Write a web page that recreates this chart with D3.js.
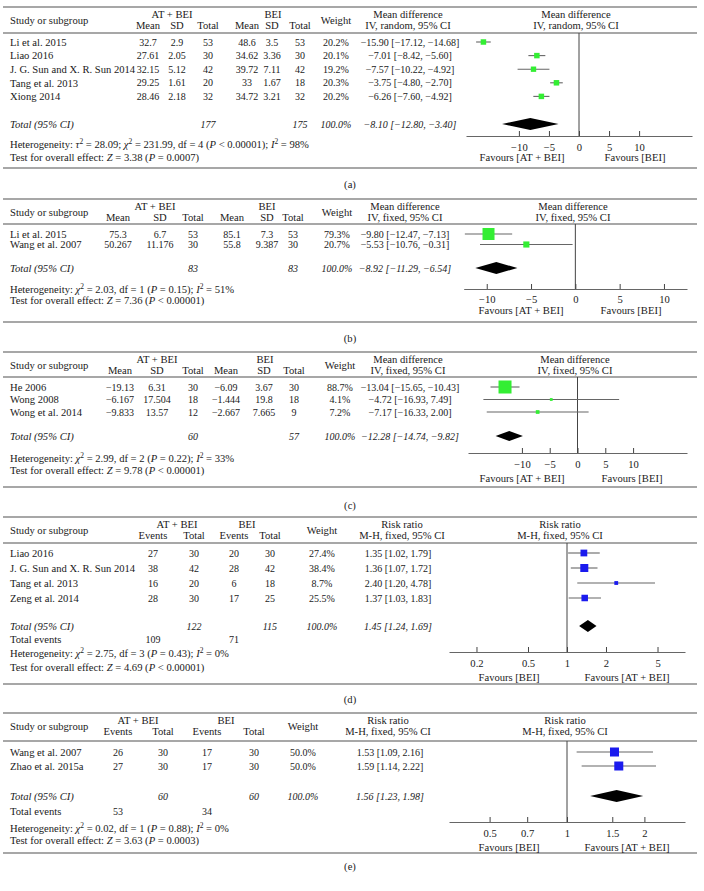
<!DOCTYPE html>
<html>
<head>
<meta charset="utf-8">
<script src="https://cdn.jsdelivr.net/npm/d3@7"></script>
<style>
body { margin: 0; background: #fff; }
text { font-family: "Liberation Serif", "Times New Roman", serif; font-size: 10.6px; fill: #1a1a1a; }
text.num { font-size: 10px; }
</style>
</head>
<body>
<svg id="fig" width="704" height="891"></svg>
<script>
// ---- panel (a) : mean difference, random
var studiesA = ["Li et al. 2015", "Liao 2016", "J. G. Sun and X. R. Sun 2014", "Tang et al. 2013", "Xiong 2014"];
var tableA = [
  ["32.7", "2.9", "53", "48.6", "3.5", "53", "20.2%"],
  ["27.61", "2.05", "30", "34.62", "3.36", "30", "20.1%"],
  ["32.15", "5.12", "42", "39.72", "7.11", "42", "19.2%"],
  ["29.25", "1.61", "20", "33", "1.67", "18", "20.3%"],
  ["28.46", "2.18", "32", "34.72", "3.21", "32", "20.2%"]
];
var estA = [-15.90, -7.01, -7.57, -3.75, -6.26];
var loA = [-17.12, -8.42, -10.22, -4.80, -7.60];
var hiA = [-14.68, -5.60, -4.92, -2.70, -4.92];
var weightA = [20.2, 20.1, 19.2, 20.3, 20.2];
var pooledA = [-8.10, -12.80, -3.40];
var totalRowA = ["", "", "177", "", "", "175", "100.0%"];
var ticksA = [-10, -5, 0, 5, 10];
var hetA = "Heterogeneity: <i>τ</i><sup>2</sup> = 28.09; <i>χ</i><sup>2</sup> = 231.99, df = 4 (<i>P</i> < 0.00001); <i>I</i><sup>2</sup> = 98%";
var testA = "Test for overall effect: <i>Z</i> = 3.38 (<i>P</i> = 0.0007)";

// ---- panel (b)
var studiesB = ["Li et al. 2015", "Wang et al. 2007"];
var tableB = [
  ["75.3", "6.7", "53", "85.1", "7.3", "53", "79.3%"],
  ["50.267", "11.176", "30", "55.8", "9.387", "30", "20.7%"]
];
var estB = [-9.80, -5.53];
var loB = [-12.47, -10.76];
var hiB = [-7.13, -0.31];
var weightB = [79.3, 20.7];
var pooledB = [-8.92, -11.29, -6.54];
var totalRowB = ["", "", "83", "", "", "83", "100.0%"];
var ticksB = [-10, -5, 0, 5, 10];
var hetB = "Heterogeneity: <i>χ</i><sup>2</sup> = 2.03, df = 1 (<i>P</i> = 0.15); <i>I</i><sup>2</sup> = 51%";
var testB = "Test for overall effect: <i>Z</i> = 7.36 (<i>P</i> < 0.00001)";

// ---- panel (c)
var studiesC = ["He 2006", "Wong 2008", "Wong et al. 2014"];
var tableC = [
  ["−19.13", "6.31", "30", "−6.09", "3.67", "30", "88.7%"],
  ["−6.167", "17.504", "18", "−1.444", "19.8", "18", "4.1%"],
  ["−9.833", "13.57", "12", "−2.667", "7.665", "9", "7.2%"]
];
var estC = [-13.04, -4.72, -7.17];
var loC = [-15.65, -16.93, -16.33];
var hiC = [-10.43, 7.49, 2.00];
var weightC = [88.7, 4.1, 7.2];
var pooledC = [-12.28, -14.74, -9.82];
var totalRowC = ["", "", "60", "", "", "57", "100.0%"];
var ticksC = [-10, -5, 0, 5, 10];
var hetC = "Heterogeneity: <i>χ</i><sup>2</sup> = 2.99, df = 2 (<i>P</i> = 0.22); <i>I</i><sup>2</sup> = 33%";
var testC = "Test for overall effect: <i>Z</i> = 9.78 (<i>P</i> < 0.00001)";

// ---- panel (d) : risk ratio
var studiesD = ["Liao 2016", "J. G. Sun and X. R. Sun 2014", "Tang et al. 2013", "Zeng et al. 2014"];
var tableD = [
  ["27", "30", "20", "30", "27.4%"],
  ["38", "42", "28", "42", "38.4%"],
  ["16", "20", "6", "18", "8.7%"],
  ["28", "30", "17", "25", "25.5%"]
];
var estD = [1.35, 1.36, 2.40, 1.37];
var loD = [1.02, 1.07, 1.20, 1.03];
var hiD = [1.79, 1.72, 4.78, 1.83];
var weightD = [27.4, 38.4, 8.7, 25.5];
var pooledD = [1.45, 1.24, 1.69];
var totalRowD = ["", "122", "", "115", "100.0%"];
var eventsD = ["109", "", "71", "", ""];
var ticksD = [0.2, 0.5, 1, 2, 5];
var hetD = "Heterogeneity: <i>χ</i><sup>2</sup> = 2.75, df = 3 (<i>P</i> = 0.43); <i>I</i><sup>2</sup> = 0%";
var testD = "Test for overall effect: <i>Z</i> = 4.69 (<i>P</i> < 0.00001)";

// ---- panel (e)
var studiesE = ["Wang et al. 2007", "Zhao et al. 2015a"];
var tableE = [
  ["26", "30", "17", "30", "50.0%"],
  ["27", "30", "17", "30", "50.0%"]
];
var estE = [1.53, 1.59];
var loE = [1.09, 1.14];
var hiE = [2.16, 2.22];
var weightE = [50.0, 50.0];
var pooledE = [1.56, 1.23, 1.98];
var totalRowE = ["", "60", "", "60", "100.0%"];
var eventsE = ["53", "", "34", "", ""];
var ticksE = [0.5, 0.7, 1, 1.5, 2];
var hetE = "Heterogeneity: <i>χ</i><sup>2</sup> = 0.02, df = 1 (<i>P</i> = 0.88); <i>I</i><sup>2</sup> = 0%";
var testE = "Test for overall effect: <i>Z</i> = 3.63 (<i>P</i> = 0.0003)";

var favAT = "Favours [AT + BEI]", favBEI = "Favours [BEI]";

var svg = d3.select("#fig");
var ruleColor = "#8a8a8a";

function fmt(v) {
  return (v < 0 ? "−" : "") + Math.abs(v).toFixed(2);
}
function ciText(e, l, h) {
  return fmt(e) + " [" + fmt(l) + ", " + fmt(h) + "]";
}

// text with <i> and <sup> pieces
function rich(t, str) {
  var parts = str.split(/(<i>.*?<\/i>|<sup>.*?<\/sup>)/);
  var shift = 0;
  parts.forEach(function(p) {
    if (!p) return;
    var ts;
    if (p.indexOf("<i>") === 0) {
      ts = t.append("tspan").style("font-style", "italic").text(p.slice(3, -4));
    } else if (p.indexOf("<sup>") === 0) {
      ts = t.append("tspan").style("font-size", "7.5px").text(p.slice(5, -6));
      ts.attr("dy", -4); shift = 4; return;
    } else {
      ts = t.append("tspan").text(p);
    }
    if (shift) { ts.attr("dy", shift); shift = 0; }
  });
}

function txt(g, x, y, s, anchor, italic, cls) {
  var t = g.append("text").attr("x", x).attr("y", y).attr("dy", "0.35em")
    .attr("text-anchor", anchor || "middle").text(s);
  if (italic) t.style("font-style", "italic");
  if (cls) t.attr("class", cls);
  return t;
}

function drawPanel(p) {
  var g = svg.append("g");
  var top = p.top;
  // rules
  [top, p.hdrLine, p.bottom].forEach(function(y) {
    g.append("line").attr("x1", 3).attr("x2", 697).attr("y1", y).attr("y2", y)
      .attr("stroke", ruleColor).attr("stroke-width", 1.4);
  });
  // header
  txt(g, 10, top + 13, "Study or subgroup", "start");
  txt(g, p.grp[0], top + 7, "AT + BEI");
  txt(g, p.grp[1], top + 7, "BEI");
  var sub = p.cols.length === 7 ? ["Mean", "SD", "Total", "Mean", "SD", "Total"] : ["Events", "Total", "Events", "Total"];
  sub.forEach(function(s, i) { txt(g, p.cols[i], top + 18.5, s); });
  txt(g, p.cols[p.cols.length - 1], top + 13, "Weight");
  txt(g, p.hdrL, top + 7, p.measure);
  txt(g, p.hdrL, top + 18.5, p.method);
  txt(g, p.hdrR, top + 7, p.measure);
  txt(g, p.hdrR, top + 18.5, p.method);

  var x = p.log ? d3.scaleLog().domain(p.domain).range(p.range)
                : d3.scaleLinear().domain(p.domain).range(p.range);
  var ref = p.log ? 1 : 0;
  var rowY = function(i) { return p.rowStart + i * p.step; };
  var size = d3.scaleSqrt().domain([0, d3.max(p.weight)]).range([0, p.sizeMax]);

  // study rows
  p.studies.forEach(function(s, i) {
    var y = rowY(i);
    txt(g, 10, y, s, "start");
    p.table[i].forEach(function(v, j) { txt(g, p.cols[j], y, v, "middle", false, "num"); });
    txt(g, p.ciX, y, ciText(p.est[i], p.lo[i], p.hi[i]), "middle", false, "num");
  });
  // totals
  txt(g, 10, p.totalY, "Total (95% CI)", "start", true);
  p.totalRow.forEach(function(v, j) { if (v) txt(g, p.cols[j], p.totalY, v, "middle", true, "num"); });
  txt(g, p.ciX, p.totalY, ciText(p.pooled[0], p.pooled[1], p.pooled[2]), "middle", true, "num");
  if (p.events) {
    txt(g, 10, p.eventsY, "Total events", "start");
    p.events.forEach(function(v, j) { if (v) txt(g, p.cols[j], p.eventsY, v, "middle", false, "num"); });
  }
  rich(txt(g, 10, p.hetY, "", "start"), p.het);
  rich(txt(g, 10, p.testY, "", "start"), p.test);
  txt(g, 350, p.labelY, p.label);

  // reference line
  g.append("line").attr("x1", x(ref)).attr("x2", x(ref)).attr("y1", p.hdrLine).attr("y2", p.axisY)
    .attr("stroke", "#444").attr("stroke-width", 1);

  // CI lines and boxes
  g.selectAll(".ci").data(p.est).enter().append("line")
    .attr("x1", function(d, i) { return x(p.lo[i]); })
    .attr("x2", function(d, i) { return x(p.hi[i]); })
    .attr("y1", function(d, i) { return rowY(i); })
    .attr("y2", function(d, i) { return rowY(i); })
    .attr("stroke", "#666").attr("stroke-width", 1.1);
  g.selectAll(".box").data(p.est).enter().append("rect")
    .attr("x", function(d, i) { return x(d) - size(p.weight[i]) / 2; })
    .attr("y", function(d, i) { return rowY(i) - size(p.weight[i]) / 2; })
    .attr("width", function(d, i) { return size(p.weight[i]); })
    .attr("height", function(d, i) { return size(p.weight[i]); })
    .attr("fill", p.color);
  // diamond
  var h = p.dH / 2, ty = p.totalY;
  g.append("path")
    .attr("d", "M" + x(p.pooled[1]) + "," + ty + "L" + x(p.pooled[0]) + "," + (ty - h) +
      "L" + x(p.pooled[2]) + "," + ty + "L" + x(p.pooled[0]) + "," + (ty + h) + "Z")
    .attr("fill", "#000");

  // axis
  var ax = g.append("g").attr("transform", "translate(0," + p.axisY + ")")
    .call(d3.axisBottom(x).tickValues(p.ticks).tickFormat(function(d) { return String(d).replace("-", "−"); })
      .tickSizeInner(-5).tickSizeOuter(0).tickPadding(p.tickPad || 7));
  ax.select(".domain").attr("stroke", "#666").attr("stroke-width", 1.2);
  ax.selectAll(".tick line").attr("stroke", "#444");
  ax.selectAll(".tick text").attr("font-family", null).attr("font-size", null).attr("fill", null);
  txt(g, p.favLx, p.favY, p.favL);
  txt(g, p.favRx, p.favY, p.favR);
}

var green = "#33ee33", blue = "#1a1aee";

drawPanel({
  label: "(a)", top: 7, hdrLine: 33, rowStart: 42, step: 13.6, totalY: 124, hetY: 144, testY: 157,
  bottom: 168, labelY: 184, cols: [148, 177, 208, 247, 272, 300, 336], grp: [172, 273],
  ciX: 410, hdrL: 408, hdrR: 576, measure: "Mean difference", method: "IV, random, 95% CI",
  studies: studiesA, table: tableA, est: estA, lo: loA, hi: hiA, weight: weightA, pooled: pooledA,
  totalRow: totalRowA, het: hetA, test: testA, ticks: ticksA,
  domain: [-18.8, 18.8], range: [466, 692], axisY: 136, favY: 157, favLx: 522, favRx: 635,
  favL: favAT, favR: favBEI, sizeMax: 5.5, dH: 12, color: green
});
drawPanel({
  label: "(b)", top: 199, hdrLine: 224, rowStart: 234, step: 10.5, totalY: 268, hetY: 289, testY: 300,
  bottom: 322, labelY: 338, cols: [118, 160, 193, 232, 267, 293, 337], grp: [155, 267],
  ciX: 405, hdrL: 405, hdrR: 573, measure: "Mean difference", method: "IV, fixed, 95% CI",
  studies: studiesB, table: tableB, est: estB, lo: loB, hi: hiB, weight: weightB, pooled: pooledB,
  totalRow: totalRowB, het: hetB, test: testB, ticks: ticksB, tickPad: 6,
  domain: [-12.6, 12.6], range: [463.7, 687], axisY: 289, favY: 310, favLx: 521, favRx: 631,
  favL: favAT, favR: favBEI, sizeMax: 12, dH: 12, color: green
});
drawPanel({
  label: "(c)", top: 352, hdrLine: 377, rowStart: 387, step: 12.5, totalY: 436, hetY: 458, testY: 470,
  bottom: 487, labelY: 505, cols: [120, 157, 193, 226, 264, 294, 340], grp: [157, 265],
  ciX: 410, hdrL: 408, hdrR: 575, measure: "Mean difference", method: "IV, fixed, 95% CI",
  studies: studiesC, table: tableC, est: estC, lo: loC, hi: hiC, weight: weightC, pooled: pooledC,
  totalRow: totalRowC, het: hetC, test: testC, ticks: ticksC,
  domain: [-19.7, 19.7], range: [468, 687], axisY: 453, favY: 478, favLx: 522, favRx: 632,
  favL: favAT, favR: favBEI, sizeMax: 13, dH: 10, color: green
});
drawPanel({
  label: "(d)", top: 517, hdrLine: 543, rowStart: 553, step: 15, totalY: 626, eventsY: 639, hetY: 653, testY: 667,
  bottom: 684, labelY: 699, cols: [153, 194, 234, 270, 322], grp: [177, 247],
  ciX: 398, hdrL: 402, hdrR: 560, measure: "Risk ratio", method: "M-H, fixed, 95% CI",
  studies: studiesD, table: tableD, est: estD, lo: loD, hi: hiD, weight: weightD, pooled: pooledD,
  totalRow: totalRowD, events: eventsD, het: hetD, test: testD, ticks: ticksD, log: true,
  domain: [1 / 8.15, 8.15], range: [449, 685], axisY: 652, favY: 677, favLx: 509, favRx: 627,
  favL: favBEI, favR: favAT, sizeMax: 8, dH: 12, color: blue
});
drawPanel({
  label: "(e)", top: 713, hdrLine: 741, rowStart: 752, step: 14, totalY: 796, eventsY: 811, hetY: 828, testY: 840,
  bottom: 853, labelY: 866, cols: [118, 163, 207, 254, 303], grp: [138, 226],
  ciX: 390, hdrL: 388, hdrR: 565, measure: "Risk ratio", method: "M-H, fixed, 95% CI",
  studies: studiesE, table: tableE, est: estE, lo: loE, hi: hiE, weight: weightE, pooled: pooledE,
  totalRow: totalRowE, events: eventsE, het: hetE, test: testE, ticks: ticksE, log: true,
  domain: [1 / 2.877, 2.877], range: [449, 685], axisY: 822, favY: 847, favLx: 509, favRx: 627,
  favL: favBEI, favR: favAT, sizeMax: 9, dH: 12, color: blue
});
</script>
</body>
</html>
